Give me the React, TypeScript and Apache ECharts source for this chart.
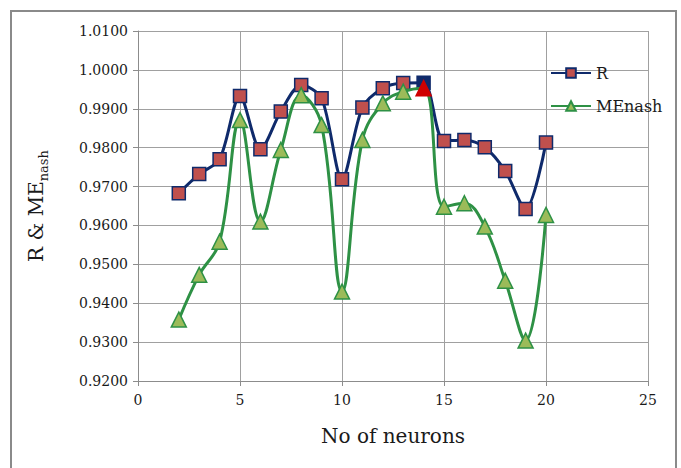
import React, { useEffect, useRef } from "react";
import * as echarts from "echarts";

const neurons = [2, 3, 4, 5, 6, 7, 8, 9, 10, 11, 12, 13, 14, 15, 16, 17, 18, 19, 20];
const rValues = [0.9683, 0.9732, 0.977, 0.9933, 0.9796, 0.9893, 0.9961, 0.9927, 0.9719, 0.9903, 0.9953, 0.9966, 0.9967, 0.9817, 0.982, 0.9801, 0.974, 0.9642, 0.9813];
const meValues = [0.9358, 0.9473, 0.9558, 0.9871, 0.961, 0.9794, 0.9935, 0.9858, 0.943, 0.982, 0.9914, 0.9944, 0.9953, 0.9648, 0.9657, 0.9597, 0.9458, 0.9304, 0.9627];
const highlightNeuron = 14;

const FONT = "DejaVu Serif";

export default function App() {
  const ref = useRef<HTMLDivElement>(null);
  useEffect(() => {
    if (!ref.current) return;
    const chart = echarts.init(ref.current, null, { renderer: "svg" });
    const rData = neurons.map((n, i) =>
      n === highlightNeuron
        ? { value: [n, rValues[i]], itemStyle: { color: "#0F2A6B", borderColor: "#0F2A6B" } }
        : { value: [n, rValues[i]] }
    );
    const meData = neurons.map((n, i) =>
      n === highlightNeuron
        ? { value: [n, meValues[i]], itemStyle: { color: "#D00000", borderColor: "#D00000" } }
        : { value: [n, meValues[i]] }
    );
    chart.setOption({
      animation: false,
      graphic: [
        {
          type: "rect",
          shape: { x: 11, y: 11, width: 665, height: 470 },
          style: { fill: "none", stroke: "#8a8a8a", lineWidth: 2 },
          silent: true,
        },
      ],
      grid: { left: 138, right: 33, top: 31, bottom: 87 },
      legend: {
        orient: "vertical",
        left: 545,
        top: 60,
        itemWidth: 40,
        itemHeight: 12,
        itemGap: 17,
        textStyle: { fontFamily: FONT, fontSize: 16, color: "#1a1a1a" },
        data: ["R", "MEnash"],
      },
      xAxis: {
        type: "value",
        min: 0,
        max: 25,
        interval: 5,
        name: "No of neurons",
        nameLocation: "middle",
        nameGap: 45,
        nameTextStyle: { fontFamily: FONT, fontSize: 20, color: "#1a1a1a" },
        axisLine: { show: true, lineStyle: { color: "#8c8c8c", width: 1 } },
        axisTick: { show: true, length: 5, lineStyle: { color: "#8c8c8c" } },
        axisLabel: { fontFamily: FONT, fontSize: 14, color: "#1a1a1a", margin: 12 },
        splitLine: { show: true, lineStyle: { color: "#a0a0a0", width: 1 } },
      },
      yAxis: {
        type: "value",
        min: 0.92,
        max: 1.01,
        interval: 0.01,
        name: "{a|R & ME}{b|nash}",
        nameLocation: "middle",
        nameGap: 88,
        nameTextStyle: {
          rich: {
            a: { fontFamily: FONT, fontSize: 20, color: "#1a1a1a", verticalAlign: "top", lineHeight: 24 },
            b: { fontFamily: FONT, fontSize: 13, color: "#1a1a1a", verticalAlign: "top", padding: [11, 0, 0, 0] },
          },
        },
        axisLine: { show: true, lineStyle: { color: "#8c8c8c", width: 1 } },
        axisTick: { show: true, length: 5, lineStyle: { color: "#8c8c8c" } },
        axisLabel: {
          fontFamily: FONT,
          fontSize: 14,
          color: "#1a1a1a",
          margin: 10,
          formatter: (v: number) => v.toFixed(4),
        },
        splitLine: { show: true, lineStyle: { color: "#a0a0a0", width: 1 } },
      },
      series: [
        {
          name: "R",
          type: "line",
          data: rData,
          smooth: 0.3,
          symbol: "rect",
          symbolSize: 13,
          lineStyle: { color: "#0F2A6B", width: 3 },
          itemStyle: { color: "#C0504D", borderColor: "#0F2A6B", borderWidth: 1.5 },
          z: 2,
        },
        {
          name: "MEnash",
          type: "line",
          data: meData,
          smooth: 0.4,
          symbol: "triangle",
          symbolSize: 15,
          lineStyle: { color: "#2E9145", width: 3 },
          itemStyle: { color: "#9BBB59", borderColor: "#2E9145", borderWidth: 1.5 },
          z: 3,
        },
      ],
    });
    return () => chart.dispose();
  }, []);
  return (
    <div
      ref={ref}
      style={{ position: "absolute", left: 0, top: 0, width: 681, height: 468, background: "#fff" }}
    />
  );
}
